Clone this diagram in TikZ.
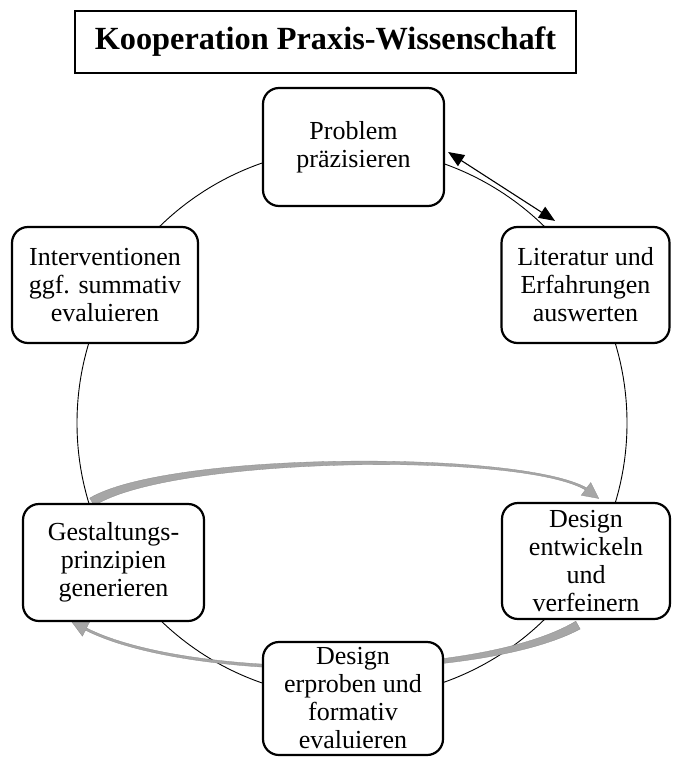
\documentclass[tikz,border=0pt]{standalone}
\usepackage{fontspec}
\setmainfont{Liberation Serif}
\usetikzlibrary{arrows.meta,calc}
\pgfdeclarelayer{background}
\pgfsetlayers{background,main}
\definecolor{flowgray}{RGB}{166,166,166}
\begin{document}
\begin{tikzpicture}[x=1pt,y=-1pt,
  stage/.style={draw=black, line width=2.2pt, rounded corners=16pt, fill=white,
    align=center, inner sep=0pt, font=\fontsize{26}{28}\selectfont},
  headline/.style={draw=black, line width=2pt, fill=white, inner sep=0pt,
    font=\bfseries\fontsize{32.3}{34}\selectfont},
  ring/.style={draw=black, line width=0.9pt},
  exchange/.style={draw=black, line width=1.1pt,
    {Triangle[length=16pt,width=13pt]}-{Triangle[length=16pt,width=13pt]}},
  flow/.style={fill=flowgray, draw=flowgray!85!black, line width=0.3pt}
]
\useasboundingbox (0,0) rectangle (673,757);

% title
\node[headline, minimum width=501pt, minimum height=62pt] (title) at (325.5,42)
  {Kooperation Praxis-Wissenschaft};

% the six stages of the cycle
\node[stage, minimum width=181pt, minimum height=118pt] (prob) at (353.5,147)
  {Problem\\präzisieren};
\node[stage, minimum width=168pt, minimum height=116pt] (lit) at (585.5,285)
  {Literatur und\\Erfahrungen\\auswerten};
\node[stage, minimum width=168pt, minimum height=116pt] (dev) at (586,561)
  {Design\\entwickeln\\und\\verfeinern};
\node[stage, minimum width=180pt, minimum height=113pt] (test) at (353,698.5)
  {Design\\erproben und\\formativ\\evaluieren};
\node[stage, minimum width=181pt, minimum height=117pt] (gest) at (113.5,562.5)
  {Gestaltungs-\\prinzipien\\generieren};
\node[stage, minimum width=186pt, minimum height=116pt] (interv) at (105,285)
  {Interventionen\\ggf. summativ\\evaluieren};

\coordinate (hub) at (352,423);

\begin{pgfonlayer}{background}
  \fill[white] (0,0) rectangle (673,757);

  % the cycle ring behind the stages
  \draw[ring] (hub) circle[radius=275];

  % tapered feedback arrow: principles -> design
  \fill[flow]
    ([shift={(-23.8,-4.8)}]gest.north)
      .. controls +(78.3,-46.7) and +(-67.7,-38) .. ([shift={(0.7,-14)}]dev.north)
    -- ([shift={(4.8,-19.4)}]dev.north)
    -- ([shift={(12.8,-3.4)}]dev.north)
    -- ([shift={(-4.8,-6.6)}]dev.north)
    -- ([shift={(-0.7,-12)}]dev.north)
      .. controls +(-64.3,-38) and +(77.7,-49.3) .. ([shift={(-19.2,2.8)}]gest.north)
    -- cycle;

  % tapered feedback arrow: design -> principles
  \fill[flow]
    ([shift={(-10.2,1.1)}]dev.south)
      .. controls +(-96.8,57.9) and +(103.5,52.1) .. ([shift={(-27,5.9)}]gest.south)
    -- ([shift={(-23.9,-0.1)}]gest.south)
    -- ([shift={(-41.7,-0.2)}]gest.south)
    -- ([shift={(-31.1,14.1)}]gest.south)
    -- ([shift={(-28,8.1)}]gest.south)
      .. controls +(104.5,52.9) and +(-99.2,53.1) .. ([shift={(-5.8,8.9)}]dev.south)
    -- cycle;
\end{pgfonlayer}

% exchange between problem and literature
\draw[exchange] ([shift={(3,5)}]prob.east) -- ([shift={(-30.5,-5)}]lit.north);
\end{tikzpicture}
\end{document}
